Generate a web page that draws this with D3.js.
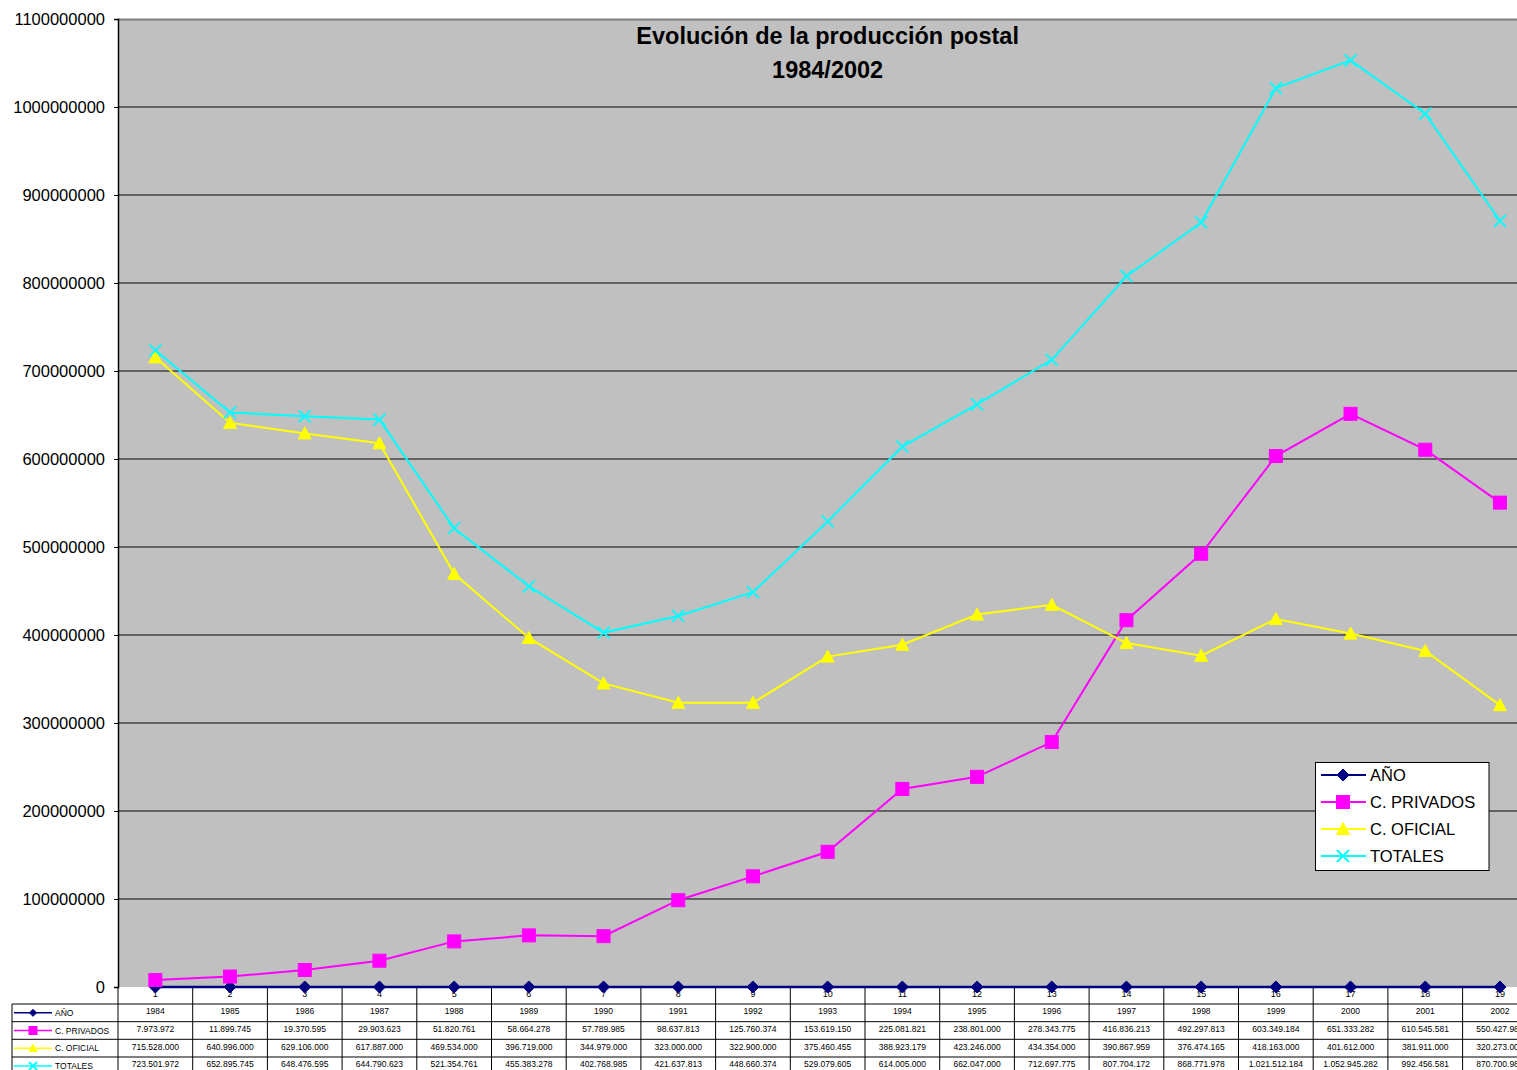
<!DOCTYPE html>
<html><head><meta charset="utf-8">
<script src="https://cdn.jsdelivr.net/npm/d3@7"></script>
<style>
html,body{margin:0;padding:0;background:#fff;overflow:hidden;}
svg{display:block;font-family:Arial,"Liberation Sans",sans-serif;}
</style></head>
<body>
<script>
const categories = ["1","2","3","4","5","6","7","8","9","10","11","12","13","14","15","16","17","18","19"];
const anio = [1984,1985,1986,1987,1988,1989,1990,1991,1992,1993,1994,1995,1996,1997,1998,1999,2000,2001,2002];
const privados = [7973972,11899745,19370595,29903623,51820761,58664278,57789985,98637813,125760374,153619150,225081821,238801000,278343775,416836213,492297813,603349184,651333282,610545581,550427981];
const oficial = [715528000,640996000,629106000,617887000,469534000,396719000,344979000,323000000,322900000,375460455,388923179,423246000,434354000,390867959,376474165,418163000,401612000,381911000,320273000];
const totales = [723501972,652895745,648476595,644790623,521354761,455383278,402768985,421637813,448660374,529079605,614005000,662047000,712697775,807704172,868771978,1021512184,1052945282,992456581,870700981];
const yTicks = [0,100000000,200000000,300000000,400000000,500000000,600000000,700000000,800000000,900000000,1000000000,1100000000];
const titleLines = ["Evolución de la producción postal","1984/2002"];

(function(){
const series = [
  {name:"AÑO", values:anio, color:"#000080", marker:"diamond", raw:true},
  {name:"C. PRIVADOS", values:privados, color:"#FF00FF", marker:"square"},
  {name:"C. OFICIAL", values:oficial, color:"#FFFF00", marker:"triangle"},
  {name:"TOTALES", values:totales, color:"#00FFFF", marker:"x"}
];

const W=1517,H=1070;
const pLeft=118, pTop=19, pBottom=987, bandW=74.7;
const pRight = pLeft + bandW*categories.length;

const svg=d3.select("body").append("svg").attr("width",W).attr("height",H);

const x=d3.scaleBand().domain(categories).range([pLeft,pRight]).paddingInner(0).paddingOuter(0);
const y=d3.scaleLinear().domain([0,1100000000]).range([pBottom,pTop]);

svg.append("rect").attr("x",pLeft).attr("y",pTop).attr("width",pRight-pLeft).attr("height",pBottom-pTop).attr("fill","#C0C0C0");

svg.append("g").selectAll("line").data(yTicks.filter(d=>d>0 && d<1100000000)).join("line")
  .attr("x1",pLeft).attr("x2",pRight).attr("y1",d=>y(d)).attr("y2",d=>y(d))
  .attr("stroke","#454545").attr("stroke-width",1.3);
svg.append("line").attr("x1",pLeft).attr("x2",pRight).attr("y1",pTop+0.5).attr("y2",pTop+0.5).attr("stroke","#808080").attr("stroke-width",2);

const yAxis=d3.axisLeft(y).tickValues(yTicks).tickFormat(d3.format("d")).tickSize(4).tickPadding(9);
const ga=svg.append("g").attr("transform",`translate(${pLeft},0)`).call(yAxis);
ga.select(".domain").attr("stroke","#000").attr("stroke-width",1.5);
ga.selectAll(".tick line").attr("stroke","#000");
ga.selectAll("text").attr("font-size","16.5px").attr("fill","#000").attr("font-family","Arial,'Liberation Sans',sans-serif");

const tcx=(pLeft+pRight)/2;
svg.append("text").attr("x",tcx).attr("y",44).attr("text-anchor","middle").attr("font-size","23.5px").attr("font-weight","bold").text(titleLines[0]);
svg.append("text").attr("x",tcx).attr("y",78).attr("text-anchor","middle").attr("font-size","23.5px").attr("font-weight","bold").text(titleLines[1]);

const rowY=[1004,1021.7,1039.3,1057,1075];
const tbl=svg.append("g");
tbl.selectAll("text.cat").data(categories).join("text").attr("class","cat")
  .attr("x",d=>x(d)+x.bandwidth()/2).attr("y",997).attr("text-anchor","middle").attr("font-size","9px").text(d=>d);
tbl.selectAll("line.v").data(categories.concat(["end"])).join("line").attr("class","v")
  .attr("x1",(d,i)=>pLeft+i*bandW).attr("x2",(d,i)=>pLeft+i*bandW).attr("y1",pBottom).attr("y2",H)
  .attr("stroke","#000").attr("stroke-width",1);
tbl.append("line").attr("x1",12).attr("x2",12).attr("y1",rowY[0]).attr("y2",H).attr("stroke","#000");
rowY.slice(0,4).forEach(yy=>{
  tbl.append("line").attr("x1",12).attr("x2",W).attr("y1",yy).attr("y2",yy).attr("stroke","#000").attr("stroke-width",1);
});
const es=d3.formatLocale({decimal:",",thousands:".",grouping:[3],currency:["",""]});
const fmt=es.format(",d");

function marker(g,type,cx,cy,color,s){
  if(type==="diamond"){
    g.append("path").attr("d",`M${cx},${cy-s}L${cx+s},${cy}L${cx},${cy+s}L${cx-s},${cy}Z`).attr("fill",color).attr("stroke",color);
  } else if(type==="square"){
    g.append("rect").attr("x",cx-s).attr("y",cy-s).attr("width",2*s).attr("height",2*s).attr("fill",color).attr("stroke",color);
  } else if(type==="triangle"){
    g.append("path").attr("d",`M${cx},${cy-s}L${cx+s},${cy+s*0.85}L${cx-s},${cy+s*0.85}Z`).attr("fill",color).attr("stroke",color);
  } else {
    g.append("path").attr("d",`M${cx-s},${cy-s}L${cx+s},${cy+s}M${cx-s},${cy+s}L${cx+s},${cy-s}`).attr("stroke",color).attr("stroke-width",1.8).attr("fill","none");
  }
}

series.forEach((s,si)=>{
  const yy0=rowY[si], yy1=rowY[si+1], cy=(yy0+yy1)/2;
  tbl.append("line").attr("x1",14).attr("x2",52).attr("y1",cy).attr("y2",cy).attr("stroke",s.color).attr("stroke-width",1.5);
  marker(tbl,s.marker,33,cy,s.color,s.marker==="diamond"?3.5:4);
  tbl.append("text").attr("x",55).attr("y",cy+3.2).attr("font-size","8.5px").text(s.name);
  tbl.selectAll(null).data(s.values).join("text")
    .attr("x",(d,i)=>x(categories[i])+x.bandwidth()/2).attr("y",yy0+10.2)
    .attr("text-anchor","middle").attr("font-size","8.5px")
    .text(d=>s.raw?String(d):fmt(d));
});

const plot=svg.append("g");
const ms={diamond:6,square:6.5,triangle:6.5,x:6};
series.forEach(s=>{
  const line=d3.line().x((d,i)=>x(categories[i])+x.bandwidth()/2).y(d=>y(d));
  plot.append("path").datum(s.values).attr("d",line).attr("fill","none").attr("stroke",s.color).attr("stroke-width",s.marker==="diamond"?2.5:2);
  s.values.forEach((v,i)=>marker(plot,s.marker,x(categories[i])+x.bandwidth()/2,y(v),s.color,ms[s.marker]));
});

const lg=svg.append("g");
lg.append("rect").attr("x",1315.5).attr("y",762.5).attr("width",173.5).attr("height",108).attr("fill","#fff").attr("stroke","#000").attr("stroke-width",1);
series.forEach((s,i)=>{
  const cy=775+i*27;
  lg.append("line").attr("x1",1321).attr("x2",1366).attr("y1",cy).attr("y2",cy).attr("stroke",s.color).attr("stroke-width",2);
  marker(lg,s.marker,1343,cy,s.color,ms[s.marker]);
  lg.append("text").attr("x",1370).attr("y",cy+6).attr("font-size","16.5px").text(s.name);
});
})();
</script>
</body></html>
